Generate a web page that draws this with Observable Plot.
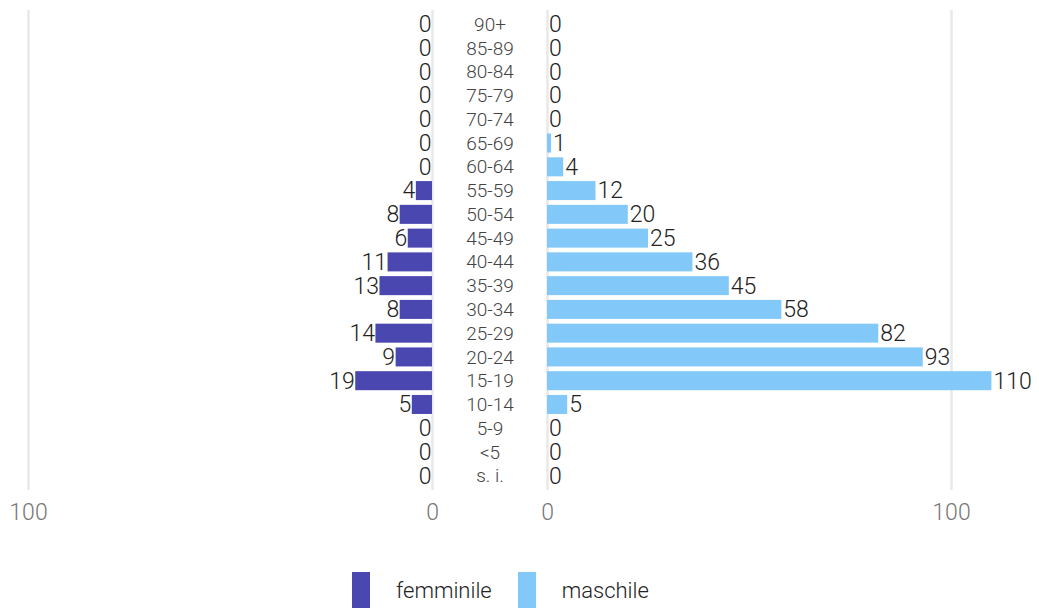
<!DOCTYPE html>
<html>
<head>
<meta charset="utf-8">
<script src="https://cdn.jsdelivr.net/npm/d3@7"></script>
<script src="https://cdn.jsdelivr.net/npm/@observablehq/plot@0.6"></script>
<style>
  html, body { margin: 0; padding: 0; background: #fff; }
  body { font-family: Roboto, "Noto Sans", sans-serif; }
  #wrap { position: relative; width: 1039px; height: 610px; }
  #wrap > div.part { position: absolute; top: 0; }
  #legend { position: absolute; top: 572px; left: 352px; display: flex; align-items: center; font-size: 22px; font-weight: 300; color: #222; font-family: Roboto, sans-serif; }
  #legend .sw { width: 18px; height: 36px; display: inline-block; }
  #legend .lab { margin-left: 26px; margin-right: 26px; }
</style>
</head>
<body>
<div id="wrap">
  <div class="part" id="left" style="left:0px"></div>
  <div class="part" id="mid" style="left:432px"></div>
  <div class="part" id="right" style="left:539px"></div>
  <div id="legend"></div>
</div>
<script>
const ages = ["90+","85-89","80-84","75-79","70-74","65-69","60-64","55-59","50-54","45-49","40-44","35-39","30-34","25-29","20-24","15-19","10-14","5-9","<5","s. i."];
const femminile = [0,0,0,0,0,0,0,4,8,6,11,13,8,14,9,19,5,0,0,0];
const maschile = [0,0,0,0,0,1,4,12,20,25,36,45,58,82,93,110,5,0,0,0];
const xTicks = [0, 100];
const seriesNames = ["femminile", "maschile"];
const seriesColors = ["#4a47b0", "#82c8f8"];

const fData = ages.map((a, i) => ({age: a, value: femminile[i]}));
const mData = ages.map((a, i) => ({age: a, value: maschile[i]}));

const H = 540;
const yOpts = {type: "band", domain: ages, padding: 0.2, round: false, axis: null};
const gridColor = "#e9e9e9";
const valueFont = {fontSize: 23, fill: "#222", fontWeight: 300};

const left = Plot.plot({
  width: 440, height: H,
  marginLeft: 28, marginRight: 8, marginTop: 10, marginBottom: 50,
  style: {fontFamily: "Roboto, sans-serif", overflow: "visible"},
  x: {domain: [0, 100], reverse: true, ticks: xTicks, tickSize: 0, tickPadding: 13, label: null},
  y: yOpts,
  marks: [
    Plot.ruleX(xTicks, {stroke: gridColor, strokeWidth: 2.5}),
    Plot.barX(fData, {x: "value", y: "age", fill: seriesColors[0]}),
    Plot.text(fData, {x: "value", y: "age", text: d => String(d.value), textAnchor: "end", dx: -1, ...valueFont})
  ]
});
document.getElementById("left").appendChild(left);

const mid = Plot.plot({
  width: 115, height: H,
  marginLeft: 0, marginRight: 0, marginTop: 10, marginBottom: 50,
  style: {fontFamily: "Roboto, sans-serif", overflow: "visible"},
  x: {axis: null},
  y: yOpts,
  marks: [
    Plot.text(ages, {y: d => d, text: d => d, frameAnchor: "middle", fontSize: 19, fill: "#444", fontWeight: 300})
  ]
});
document.getElementById("mid").appendChild(mid);

const right = Plot.plot({
  width: 500, height: H,
  marginLeft: 8, marginRight: 88, marginTop: 10, marginBottom: 50,
  style: {fontFamily: "Roboto, sans-serif", overflow: "visible"},
  x: {domain: [0, 100], ticks: xTicks, tickSize: 0, tickPadding: 13, label: null},
  y: yOpts,
  marks: [
    Plot.ruleX(xTicks, {stroke: gridColor, strokeWidth: 2.5}),
    Plot.barX(mData, {x: "value", y: "age", fill: seriesColors[1]}),
    Plot.text(mData, {x: "value", y: "age", text: d => String(d.value), textAnchor: "start", dx: 1.5, ...valueFont})
  ]
});
document.getElementById("right").appendChild(right);

for (const svg of [left, right]) {
  svg.querySelectorAll("g[aria-label='x-axis tick label']").forEach(g => {
    g.setAttribute("font-size", "23");
    g.setAttribute("fill", "#777");
    g.setAttribute("font-weight", "300");
  });
}

const legend = document.getElementById("legend");
seriesNames.forEach((name, i) => {
  const sw = document.createElement("span");
  sw.className = "sw";
  sw.style.background = seriesColors[i];
  const lab = document.createElement("span");
  lab.className = "lab";
  lab.textContent = name;
  legend.appendChild(sw);
  legend.appendChild(lab);
});
</script>
</body>
</html>
